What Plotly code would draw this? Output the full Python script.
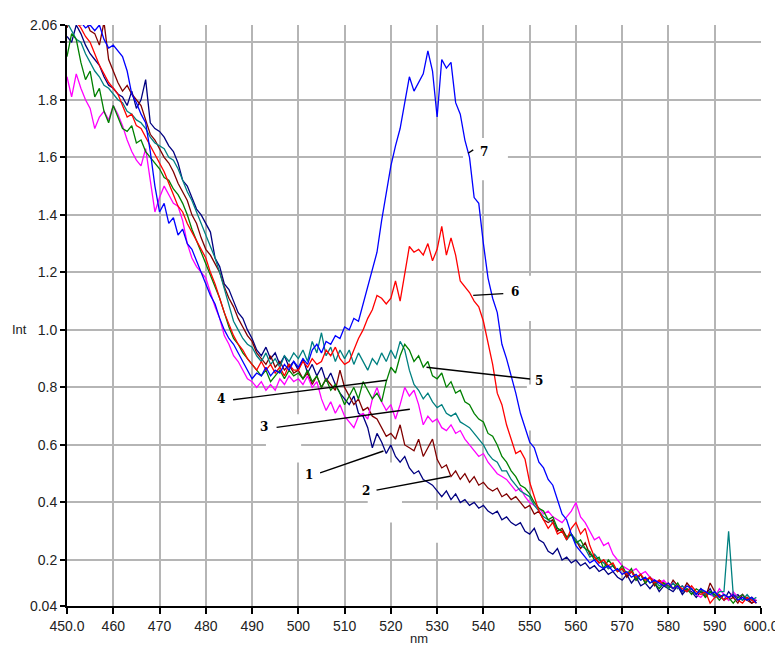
import plotly.graph_objects as go

# ---------------- data ----------------
wavelength = list(range(450, 600))  # nm, 450..599

curve1_navy = [
    2.02, 2.00, 2.06, 2.03, 1.99, 1.96, 1.94, 1.92, 1.88, 1.85,
    1.84, 1.82, 1.81, 1.78, 1.83, 1.77, 1.80, 1.87, 1.72, 1.70,
    1.69, 1.67, 1.64, 1.62, 1.58, 1.52, 1.50, 1.46, 1.42, 1.40,
    1.37, 1.34, 1.25, 1.22, 1.16, 1.14, 1.10, 1.06, 1.04, 1.00,
    0.97, 0.93, 0.91, 0.94, 0.90, 0.92, 0.88, 0.91, 0.87, 0.89,
    0.86, 0.90, 0.85, 0.88, 0.84, 0.87, 0.82, 0.85, 0.81, 0.78,
    0.76, 0.74, 0.77, 0.71, 0.70, 0.66, 0.59, 0.64, 0.61, 0.57,
    0.60, 0.56, 0.54, 0.56, 0.52, 0.50, 0.51, 0.48, 0.47, 0.46,
    0.44, 0.42, 0.44, 0.41, 0.43, 0.40, 0.41, 0.39, 0.40, 0.38,
    0.39, 0.37, 0.36, 0.37, 0.34, 0.35, 0.33, 0.32, 0.33, 0.30,
    0.29, 0.31, 0.27, 0.26, 0.23, 0.22, 0.24, 0.20, 0.21, 0.19,
    0.20, 0.18, 0.19, 0.17, 0.18, 0.16, 0.17, 0.15, 0.16, 0.14,
    0.13, 0.15, 0.12, 0.14, 0.11, 0.12, 0.10, 0.12, 0.09, 0.11,
    0.10, 0.09, 0.11, 0.08, 0.10, 0.09, 0.07, 0.09, 0.08, 0.10,
    0.07, 0.08, 0.06, 0.09, 0.07, 0.08, 0.06, 0.07, 0.05, 0.06,
]

curve2_brown = [
    2.05, 2.09, 2.07, 2.06, 2.08, 2.04, 2.03, 1.99, 2.07, 1.94,
    1.90, 1.86, 1.83, 1.85, 1.82, 1.80, 1.78, 1.73, 1.68, 1.66,
    1.63, 1.60, 1.58, 1.55, 1.51, 1.48, 1.45, 1.40, 1.37, 1.32,
    1.28, 1.26, 1.23, 1.20, 1.15, 1.11, 1.08, 1.04, 1.01, 0.98,
    0.96, 0.92, 0.90, 0.88, 0.91, 0.87, 0.89, 0.86, 0.88, 0.85,
    0.86, 0.83, 0.85, 0.81, 0.84, 0.80, 0.83, 0.81, 0.79, 0.86,
    0.80, 0.77, 0.74, 0.76, 0.72, 0.73, 0.70, 0.69, 0.66, 0.63,
    0.64, 0.62, 0.67, 0.60, 0.59, 0.58, 0.62, 0.56, 0.59, 0.62,
    0.55, 0.52, 0.53, 0.49, 0.51, 0.48, 0.50, 0.47, 0.49, 0.46,
    0.47, 0.45, 0.44, 0.45, 0.42, 0.43, 0.41, 0.42, 0.40, 0.38,
    0.39, 0.36, 0.37, 0.34, 0.33, 0.34, 0.30, 0.31, 0.28, 0.29,
    0.27, 0.24, 0.26, 0.22, 0.21, 0.19, 0.20, 0.17, 0.18, 0.16,
    0.17, 0.14, 0.16, 0.13, 0.15, 0.12, 0.14, 0.11, 0.13, 0.12,
    0.10, 0.13, 0.11, 0.09, 0.12, 0.10, 0.08, 0.10, 0.07, 0.12,
    0.09, 0.07, 0.08, 0.06, 0.07, 0.05, 0.08, 0.06, 0.05, 0.06,
]

curve3_magenta = [
    1.88, 1.81, 1.89, 1.84, 1.80, 1.77, 1.70, 1.74, 1.76, 1.73,
    1.78, 1.75, 1.71, 1.66, 1.62, 1.59, 1.57, 1.63, 1.52, 1.41,
    1.46, 1.50, 1.47, 1.44, 1.43, 1.38, 1.30, 1.25, 1.22, 1.20,
    1.18, 1.13, 1.08, 1.04, 0.98, 0.95, 0.91, 0.89, 0.86, 0.83,
    0.82, 0.80, 0.82, 0.79, 0.81, 0.79, 0.83, 0.81, 0.84, 0.82,
    0.83, 0.81, 0.84, 0.80, 0.82, 0.76, 0.72, 0.75, 0.71, 0.74,
    0.70, 0.68, 0.66, 0.70, 0.71, 0.69, 0.76, 0.80, 0.75, 0.72,
    0.74, 0.69, 0.74, 0.80, 0.77, 0.79, 0.74, 0.67, 0.70, 0.68,
    0.69, 0.66, 0.65, 0.67, 0.64, 0.65, 0.62, 0.60, 0.58, 0.56,
    0.57, 0.54, 0.52, 0.50, 0.49, 0.48, 0.46, 0.44, 0.45, 0.42,
    0.40, 0.39, 0.38, 0.36, 0.37, 0.35, 0.34, 0.33, 0.35, 0.37,
    0.40, 0.35, 0.33, 0.30, 0.27, 0.28, 0.25, 0.26, 0.22, 0.20,
    0.18, 0.17, 0.16, 0.17, 0.15, 0.16, 0.14, 0.13, 0.12, 0.13,
    0.11, 0.12, 0.10, 0.11, 0.09, 0.10, 0.08, 0.07, 0.09, 0.08,
    0.07, 0.10, 0.08, 0.06, 0.09, 0.07, 0.08, 0.06, 0.07, 0.06,
]

curve4_teal = [
    2.07, 2.04, 2.01, 2.00, 1.96, 1.93, 1.90, 1.88, 1.85, 1.84,
    1.82, 1.80, 1.79, 1.76, 1.75, 1.73, 1.72, 1.70, 1.67, 1.65,
    1.64, 1.63, 1.60, 1.59, 1.56, 1.52, 1.48, 1.45, 1.41, 1.37,
    1.33, 1.29, 1.25, 1.20, 1.14, 1.08, 1.03, 1.00, 0.97, 0.95,
    0.94, 0.91, 0.89, 0.92, 0.88, 0.90, 0.87, 0.91, 0.89, 0.92,
    0.90, 0.93, 0.89, 0.96, 0.92, 0.99, 0.91, 0.94, 0.89, 0.93,
    0.90, 0.93, 0.88, 0.92, 0.89, 0.86, 0.90, 0.88, 0.92, 0.89,
    0.93, 0.90, 0.96, 0.93, 0.86, 0.81, 0.79, 0.76, 0.78, 0.75,
    0.73, 0.74, 0.71, 0.70, 0.71, 0.68, 0.67, 0.66, 0.64, 0.62,
    0.60, 0.57, 0.55, 0.54, 0.51, 0.51, 0.48, 0.46, 0.44, 0.43,
    0.42, 0.39, 0.37, 0.35, 0.34, 0.33, 0.31, 0.30, 0.27, 0.29,
    0.27, 0.25, 0.24, 0.21, 0.22, 0.20, 0.19, 0.17, 0.18, 0.16,
    0.17, 0.15, 0.16, 0.14, 0.13, 0.14, 0.12, 0.13, 0.11, 0.12,
    0.10, 0.12, 0.10, 0.11, 0.09, 0.10, 0.08, 0.10, 0.08, 0.09,
    0.07, 0.09, 0.09, 0.30, 0.08, 0.07, 0.06, 0.08, 0.06, 0.07,
]

curve5_green = [
    1.95, 2.03, 2.01, 1.93, 1.87, 1.90, 1.81, 1.84, 1.76, 1.72,
    1.78, 1.74, 1.70, 1.69, 1.71, 1.65, 1.66, 1.62, 1.60, 1.58,
    1.56, 1.53, 1.52, 1.49, 1.47, 1.44, 1.40, 1.35, 1.31, 1.27,
    1.23, 1.19, 1.15, 1.11, 1.06, 1.01, 0.97, 0.95, 0.92, 0.90,
    0.88, 0.86, 0.84, 0.86, 0.82, 0.84, 0.86, 0.83, 0.86, 0.84,
    0.85, 0.83, 0.86, 0.82, 0.84, 0.80, 0.83, 0.79, 0.81, 0.78,
    0.74, 0.77, 0.80, 0.76, 0.82, 0.79, 0.76, 0.78, 0.75, 0.82,
    0.87, 0.85, 0.91, 0.95, 0.93, 0.89, 0.91, 0.87, 0.89, 0.84,
    0.83, 0.85, 0.80, 0.82, 0.78, 0.79, 0.75, 0.74, 0.71, 0.69,
    0.68, 0.64, 0.63, 0.60, 0.56, 0.54, 0.51, 0.49, 0.46, 0.45,
    0.43, 0.40, 0.38, 0.37, 0.34, 0.35, 0.31, 0.30, 0.28, 0.29,
    0.26, 0.27, 0.24, 0.23, 0.20, 0.21, 0.17, 0.20, 0.18, 0.16,
    0.18, 0.15, 0.17, 0.13, 0.15, 0.12, 0.14, 0.12, 0.10, 0.12,
    0.11, 0.10, 0.12, 0.09, 0.10, 0.08, 0.10, 0.09, 0.07, 0.09,
    0.08, 0.06, 0.08, 0.07, 0.05, 0.07, 0.08, 0.06, 0.07, 0.05,
]

curve6_red = [
    2.12, 2.09, 2.07, 2.05, 2.02, 2.00, 1.96, 1.92, 1.89, 1.86,
    1.84, 1.82, 1.78, 1.74, 1.75, 1.71, 1.70, 1.67, 1.64, 1.61,
    1.58, 1.55, 1.51, 1.47, 1.43, 1.41, 1.37, 1.34, 1.31, 1.28,
    1.25, 1.20, 1.16, 1.11, 1.06, 1.02, 0.98, 0.95, 0.93, 0.90,
    0.88, 0.86, 0.89, 0.86, 0.88, 0.85, 0.87, 0.84, 0.88, 0.86,
    0.86, 0.89, 0.87, 0.90, 0.88, 0.89, 0.93, 0.91, 0.94, 0.90,
    0.88, 0.89, 0.93, 0.97, 1.00, 1.04, 1.07, 1.12, 1.11, 1.09,
    1.11, 1.17, 1.10, 1.19, 1.29, 1.27, 1.28, 1.26, 1.30, 1.24,
    1.28, 1.36, 1.26, 1.32, 1.26, 1.17, 1.15, 1.13, 1.10, 1.08,
    1.03, 0.95, 0.88, 0.78, 0.74, 0.67, 0.62, 0.57, 0.58, 0.55,
    0.47, 0.42, 0.37, 0.34, 0.31, 0.33, 0.29, 0.30, 0.27, 0.31,
    0.33, 0.29, 0.31, 0.25, 0.21, 0.19, 0.20, 0.18, 0.19, 0.16,
    0.17, 0.15, 0.16, 0.14, 0.15, 0.13, 0.14, 0.12, 0.13, 0.11,
    0.12, 0.10, 0.11, 0.10, 0.09, 0.11, 0.09, 0.08, 0.09, 0.05,
    0.07, 0.08, 0.06, 0.07, 0.08, 0.06, 0.05, 0.07, 0.06, 0.05,
]

curve7_blue = [
    2.09, 2.10, 2.08, 2.07, 2.05, 2.06, 2.04, 2.06, 2.01, 1.98,
    1.99, 1.97, 1.95, 1.90, 1.82, 1.79, 1.75, 1.72, 1.62, 1.50,
    1.41, 1.44, 1.37, 1.39, 1.33, 1.35, 1.30, 1.28, 1.24, 1.20,
    1.16, 1.12, 1.09, 1.04, 1.00, 0.97, 0.95, 0.92, 0.89, 0.86,
    0.83, 0.85, 0.84, 0.87, 0.84, 0.86, 0.85, 0.88, 0.86, 0.89,
    0.87, 0.90, 0.88, 0.93, 0.95, 0.92, 0.96, 0.95, 0.98, 0.97,
    1.01, 1.00, 1.04, 1.03, 1.09, 1.14, 1.20, 1.27, 1.38, 1.47,
    1.57, 1.64, 1.70, 1.79, 1.88, 1.83, 1.86, 1.89, 1.97, 1.90,
    1.74, 1.94, 1.91, 1.93, 1.79, 1.75, 1.66, 1.60, 1.46, 1.44,
    1.30, 1.18, 1.11, 1.06, 0.95, 0.90, 0.84, 0.78, 0.71, 0.66,
    0.61, 0.59, 0.54, 0.52, 0.48, 0.46, 0.41, 0.36, 0.34, 0.29,
    0.25, 0.23, 0.21, 0.19, 0.20, 0.18, 0.17, 0.18, 0.16, 0.17,
    0.15, 0.16, 0.14, 0.15, 0.13, 0.14, 0.12, 0.13, 0.12, 0.11,
    0.12, 0.10, 0.11, 0.09, 0.11, 0.10, 0.08, 0.10, 0.09, 0.08,
    0.09, 0.07, 0.08, 0.07, 0.08, 0.06, 0.07, 0.06, 0.07, 0.05,
]

series_names = ["1", "2", "3", "4", "5", "6", "7"]
series_values = [curve1_navy, curve2_brown, curve3_magenta, curve4_teal,
                 curve5_green, curve6_red, curve7_blue]
series_colors = ["#000080", "#800000", "#ff00ff", "#008080",
                 "#008000", "#ff0000", "#0000ff"]

y_tickvals = [0.04, 0.2, 0.4, 0.6, 0.8, 1.0, 1.2, 1.4, 1.6, 1.8, 2.0, 2.06]
y_ticktext = ["0.04", "0.2", "0.4", "0.6", "0.8", "1.0", "1.2", "1.4", "1.6", "1.8", "", "2.06"]
x_tickvals = [450, 460, 470, 480, 490, 500, 510, 520, 530, 540, 550, 560, 570, 580, 590, 600]
x_ticktext = ["450.0", "460", "470", "480", "490", "500", "510", "520", "530",
              "540", "550", "560", "570", "580", "590", "600.0"]

# curve labels: (text, label x, label y, leader from x, from y, to x, to y)
curve_labels = [
    ("7", 538.9, 1.620, 536.7, 1.614, 537.8, 1.626),
    ("6", 545.6, 1.130, 537.8, 1.120, 544.3, 1.126),
    ("5", 550.8, 0.823, 527.7, 0.870, 550.1, 0.829),
    ("4", 484.6, 0.759, 485.9, 0.757, 519.1, 0.825),
    ("3", 493.9, 0.663, 495.3, 0.661, 524.1, 0.724),
    ("1", 503.6, 0.497, 504.7, 0.503, 518.4, 0.579),
    ("2", 515.9, 0.439, 516.9, 0.443, 532.8, 0.491),
]

# white patches that interrupt the grid around the label boxes
grid_gaps = [
    (535.6, 545.3, 1.52, 1.667),
    (541.5, 553.4, 1.031, 1.188),
    (549.4, 558.8, 0.65, 0.81),
    (493.0, 500.6, 0.539, 0.707),
    (515.0, 522.4, 0.330, 0.539),
    (526.3, 533.9, 0.260, 0.375),
]

# ---------------- figure ----------------
fig = go.Figure()
for name, vals, col in zip(series_names, series_values, series_colors):
    fig.add_trace(go.Scatter(x=wavelength, y=vals, mode="lines", name=name,
                             line=dict(color=col, width=1.3), hoverinfo="skip"))

for (x0, x1, y0, y1) in grid_gaps:
    fig.add_shape(type="rect", xref="x", yref="y", x0=x0, x1=x1, y0=y0, y1=y1,
                  fillcolor="white", line=dict(width=0), layer="between")

for (t, lx, ly, fx, fy, tx, ty) in curve_labels:
    fig.add_shape(type="line", xref="x", yref="y", x0=fx, y0=fy, x1=tx, y1=ty,
                  line=dict(color="black", width=1.4), layer="above")
    fig.add_annotation(x=lx, y=ly, xref="x", yref="y", text="<b>%s</b>" % t,
                       showarrow=False, xanchor="left" if t in ("5", "6", "7") else "right",
                       yanchor="middle",
                       font=dict(family="DejaVu Serif", size=12, color="black"))

# the page body adds an 8 px margin, so the figure is sized to fit the window
fig.update_layout(
    width=775, height=642,
    margin=dict(l=59, r=22, t=17, b=44, autoexpand=False),
    paper_bgcolor="white", plot_bgcolor="white",
    showlegend=False,
    font=dict(family="Liberation Sans, Arial, sans-serif", size=14, color="#222222"),
)

fig.update_xaxes(
    range=[450, 600], tickmode="array", tickvals=x_tickvals, ticktext=x_ticktext,
    showgrid=True, gridcolor="#b5b5b5", gridwidth=2,
    showline=True, linecolor="black", linewidth=2,
    ticks="outside", ticklen=6, tickwidth=1.5, tickcolor="black",
    zeroline=False, automargin=False,
)
fig.update_yaxes(
    range=[0.04, 2.06], tickmode="array", tickvals=y_tickvals, ticktext=y_ticktext,
    showgrid=True, gridcolor="#b5b5b5", gridwidth=2,
    showline=True, linecolor="black", linewidth=2,
    ticks="outside", ticklen=5, tickwidth=1.5, tickcolor="black",
    zeroline=False, automargin=False,
)

fig.add_annotation(xref="paper", yref="y", x=0, y=1.0, xshift=-48, text="Int",
                   showarrow=False, xanchor="center", yanchor="middle",
                   font=dict(family="Liberation Sans, Arial, sans-serif", size=13, color="#222222"))
fig.add_annotation(xref="x", yref="paper", x=526, y=0, yshift=-32, text="nm",
                   showarrow=False, xanchor="center", yanchor="middle",
                   font=dict(family="Liberation Sans, Arial, sans-serif", size=13, color="#222222"))

fig.write_html("out.html", config={"displayModeBar": False})
